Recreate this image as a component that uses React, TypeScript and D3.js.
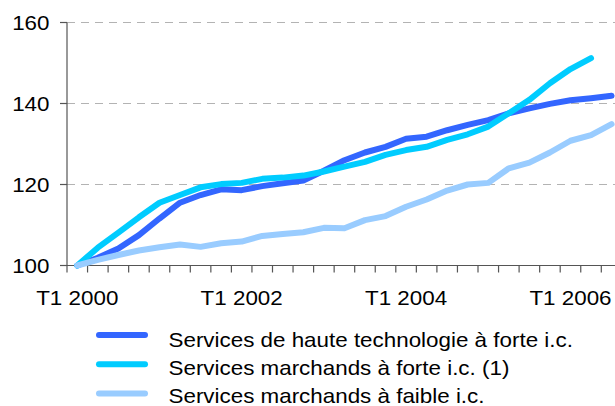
import React from "react";
import * as d3 from "d3";

const years = [2000, 2001, 2002, 2003, 2004, 2005, 2006];
const quarters: string[] = [];
years.forEach((y) => {
  for (let q = 1; q <= 4; q++) {
    if (y === 2006 && q > 3) break;
    quarters.push(`T${q} ${y}`);
  }
});

const hauteTech = [100, 101.9, 104.2, 107.5, 111.6, 115.5, 117.4, 118.8, 118.6, 119.6, 120.3, 121.0, 123.4, 126.0, 127.9, 129.3, 131.3, 131.8, 133.4, 134.7, 135.9, 137.6, 138.8, 139.9, 140.8, 141.3, 141.9];
const marchandsForte = [100, 104.4, 108.1, 111.9, 115.5, 117.4, 119.3, 120.1, 120.4, 121.4, 121.7, 122.2, 123.2, 124.4, 125.6, 127.3, 128.5, 129.3, 131.0, 132.4, 134.3, 137.6, 140.9, 145.0, 148.5, 151.2];
const marchandsFaible = [100, 101.4, 102.6, 103.7, 104.5, 105.2, 104.6, 105.5, 105.9, 107.3, 107.8, 108.2, 109.3, 109.2, 111.2, 112.2, 114.5, 116.3, 118.5, 120.0, 120.4, 124.0, 125.4, 127.9, 130.8, 132.2, 134.9];

const yTicks = [100, 120, 140, 160];
const xLabels = ["T1 2000", "T1 2002", "T1 2004", "T1 2006"];

const seriesNames = [
  "Services de haute technologie à forte i.c.",
  "Services marchands à forte i.c. (1)",
  "Services marchands à faible i.c.",
];
const seriesColors = ["#3366ff", "#00ccff", "#99ccff"];
const seriesData = [hauteTech, marchandsForte, marchandsFaible];

const W = 615;
const H = 406;
const SX = 1.12;
const FONT = "'Liberation Sans', Arial, sans-serif";

function T(props: { x: number; y: number; anchor?: string; size?: number; children: React.ReactNode }) {
  const { x, y, anchor = "start", size = 20, children } = props;
  return (
    <text
      transform={`translate(${x},${y}) scale(${SX},1)`}
      textAnchor={anchor}
      fontFamily={FONT}
      fontSize={size}
      fill="#000"
    >
      {children}
    </text>
  );
}

export default function App() {
  const x0 = 67;
  const step = 20.55;
  const x = d3.scaleBand<string>().domain(quarters).range([x0, x0 + step * quarters.length]).padding(0);
  const y = d3.scaleLinear().domain([100, 160]).range([265.5, 22.5]);
  const cx = (i: number) => (x(quarters[i]) as number) + x.bandwidth() / 2;

  const line = d3
    .line<number>()
    .x((_, i) => cx(i))
    .y((d) => y(d));

  const boundaries = quarters.map((q) => x(q) as number).concat([x0 + step * quarters.length]);

  return (
    <div style={{ position: "absolute", left: 0, top: 0 }}>
      <svg width={W} height={H} style={{ display: "block", background: "#fff" }}>
        {/* gridlines */}
        {yTicks.slice(1).map((t) => (
          <line key={t} x1={x0} x2={W} y1={y(t)} y2={y(t)} stroke="#b3b3b3" strokeWidth={1.2} strokeDasharray="8,6" />
        ))}
        {/* y axis */}
        <line x1={x0} x2={x0} y1={y(160)} y2={y(100)} stroke="#555" strokeWidth={1.2} />
        {yTicks.map((t) => (
          <g key={t}>
            <line x1={x0 - 7} x2={x0} y1={y(t)} y2={y(t)} stroke="#555" strokeWidth={1.2} />
            <T x={49.5} y={y(t) + 7.3} anchor="end">{t}</T>
          </g>
        ))}
        {/* x axis */}
        <line x1={x0} x2={W} y1={y(100)} y2={y(100)} stroke="#555" strokeWidth={1.2} />
        {boundaries.map((b, i) => (
          <line key={i} x1={b} x2={b} y1={y(100)} y2={y(100) + 7} stroke="#555" strokeWidth={1.2} />
        ))}
        {xLabels.map((l) => (
          <T key={l} x={cx(quarters.indexOf(l))} y={305} anchor="middle">{l}</T>
        ))}
        {/* lines */}
        {seriesData.map((s, i) => (
          <path
            key={i}
            d={line(s) as string}
            fill="none"
            stroke={seriesColors[i]}
            strokeWidth={6}
            strokeLinejoin="round"
            strokeLinecap="round"
          />
        ))}
        {/* legend */}
        {seriesNames.map((n, i) => (
          <g key={n}>
            <line x1={99} x2={145} y1={335 + i * 29.3} y2={335 + i * 29.3} stroke={seriesColors[i]} strokeWidth={6} strokeLinecap="round" />
            <T x={168.5} y={347.3 + i * 28}>{n}</T>
          </g>
        ))}
      </svg>
    </div>
  );
}
